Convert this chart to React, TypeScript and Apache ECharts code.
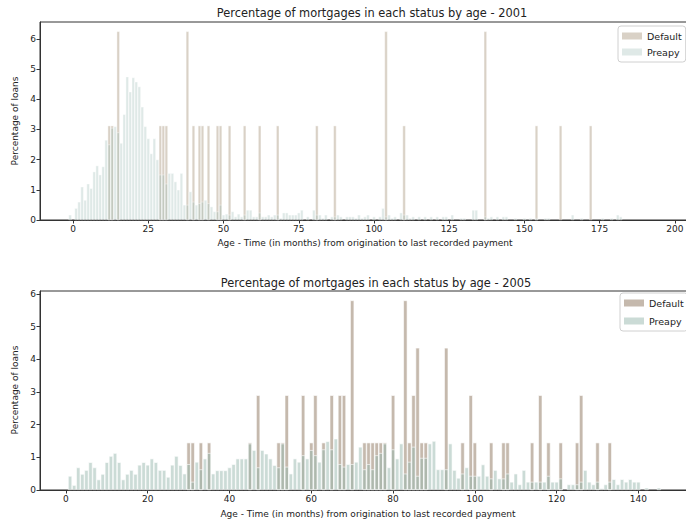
import React, { useEffect, useRef } from "react";
import * as echarts from "echarts";

// ---------- 2001 ----------
const prepay2001Start = -1;
const prepay2001 = [
  0.17, 0, 0.39, 0.6, 1.1, 0.66, 1.2, 1.05, 1.6, 1.8, 1.5, 1.77, 2.65, 2.5, 3.05, 3.1, 2.9, 2.55, 3.5, 4.75,
  4.25, 4.72, 4.58, 4.42, 3.75, 3.1, 2.7, 2.2, 2.7, 2.0, 1.5, 1.5, 1.2, 1.55, 1.55, 1.27, 1.0, 1.55, 0.5, 0.5,
  0.94, 0.6, 0.5, 0.55, 0.6, 0.66, 0.55, 0.44, 0.28, 0.28, 0.5, 0.17, 0.2, 0.17, 0.28, 0.11, 0.2, 0.11, 0.17, 0.33,
  0.33, 0.11, 0.11, 0.24, 0.11, 0.11, 0.17, 0.11, 0.17, 0.17, 0.06, 0.24, 0.24, 0.17, 0.17, 0.17, 0.24, 0.33, 0, 0.11,
  0, 0.33, 0.17, 0.17, 0.06, 0.17, 0, 0.11, 0.11, 0.17, 0.11, 0, 0.11, 0.11, 0.11, 0.06, 0.17, 0.06, 0.11, 0.17,
  0, 0.11, 0, 0.11, 0.39, 0.11, 0.17, 0.06, 0.11, 0, 0.24, 0.17, 0.17, 0.06, 0.11, 0, 0.11, 0, 0.11, 0,
  0.11, 0, 0.11, 0, 0.11, 0.11, 0, 0.17, 0, 0, 0.06, 0.06, 0, 0, 0.33, 0.33, 0, 0, 0.11, 0.06,
  0.11, 0, 0.11, 0, 0.11, 0.11, 0, 0, 0.06, 0, 0, 0.06, 0, 0.06, 0, 0.06, 0, 0, 0.06, 0.06,
  0, 0, 0, 0, 0, 0, 0, 0.17, 0, 0, 0.06, 0, 0, 0, 0, 0, 0, 0.06, 0, 0,
  0.06, 0, 0.17, 0.11, 0,
];
const default2001Ages = [12, 13, 15, 29, 30, 31, 38, 40, 42, 43, 45, 48, 49, 52, 57, 62, 68, 81, 87, 104, 110, 137, 154, 162, 172];
const default2001Values = [3.125, 3.125, 6.25, 3.125, 3.125, 3.125, 6.25, 3.125, 3.125, 3.125, 3.125, 3.125, 3.125, 3.125, 3.125, 3.125, 3.125, 3.125, 3.125, 6.25, 3.125, 6.25, 3.125, 3.125, 3.125];

// ---------- 2005 ----------
const prepay2005Start = 1;
const prepay2005 = [
  0.43, 0.15, 0.69, 0.49, 0.61, 0.85, 0.69, 0.32, 0.49, 0.85, 1.04, 1.13, 0.85, 0.32, 0.49, 0.61, 0.49, 0.77, 0.85, 0.77,
  0.96, 0.85, 0.61, 0.61, 0.4, 0.77, 1.04, 0.76, 0.5, 0.79, 0.25, 0.86, 0.63, 0.96, 1.13, 0.5, 0.6, 0.6, 0.6, 0.69,
  0.79, 0.96, 0.96, 0.96, 1.42, 1.22, 0.69, 1.22, 1.11, 0.96, 0.76, 0.69, 1.42, 0.71, 0.5, 0.96, 0.86, 1.06, 0.96, 1.22,
  1.06, 0.86, 1.24, 1.49, 1.24, 1.57, 0.79, 0.71, 0.79, 0.79, 0.86, 1.32, 0.63, 0.79, 0.63, 1.06, 1.13, 1.42, 0.69, 1.24,
  0.96, 1.42, 0.5, 0.86, 1.32, 0.43, 0.98, 0.98, 1.42, 1.5, 0.63, 0.63, 0.63, 1.42, 0.61, 0.37, 0.5, 0.69, 0.43, 0.43,
  0.43, 0.78, 0.43, 0.35, 0.61, 0.35, 0.35, 0.5, 0.25, 0.5, 0.17, 0.61, 0.25, 0.25, 0.25, 0.25, 0.25, 0.43, 0.25, 0.25,
  0.35, 0, 0.17, 0.17, 0.17, 0.25, 0.61, 0.25, 0.17, 0.25, 0.05, 0.17, 0.25, 0.33, 0.17, 0.33, 0.25, 0.33, 0.25, 0.25,
  0, 0.07, 0, 0, 0.07,
];
const default2005Ages = [30, 31, 33, 35, 45, 47, 52, 53, 54, 58, 60, 61, 63, 65, 67, 68, 70, 73, 74, 75, 76, 77, 78, 80, 83, 84, 85, 86, 87, 88, 93, 97, 99, 100, 104, 107, 108, 114, 116, 118, 121, 125, 126, 130, 133];
const default2005Values = [1.45, 1.45, 1.45, 1.45, 1.45, 2.9, 1.45, 1.45, 2.9, 2.9, 1.45, 2.9, 1.45, 2.9, 2.9, 2.9, 5.8, 1.45, 1.45, 1.45, 1.45, 1.45, 1.45, 2.9, 5.8, 1.45, 2.9, 4.35, 1.45, 1.45, 4.35, 1.45, 2.9, 1.45, 1.45, 1.45, 1.45, 1.45, 2.9, 1.45, 1.45, 1.45, 2.9, 1.45, 1.45];

const xTicks2001 = [0, 25, 50, 75, 100, 125, 150, 175, 200];
const xTicks2005 = [0, 20, 40, 60, 80, 100, 120, 140];
const yTicks = [0, 1, 2, 3, 4, 5, 6];

const titles = ["Percentage of mortgages in each status by age - 2001", "Percentage of mortgages in each status by age - 2005"];
const xLabel = "Age - Time (in months) from origination to last recorded payment";
const yLabel = "Percentage of loans";
const seriesNames = ["Default", "Preapy"];

const FONT = "DejaVu Sans";
const C01_DEF = "rgba(160,140,112,0.4)";
const C01_PRE = "rgba(150,182,176,0.3)";
const C05_DEF = "rgba(140,116,92,0.5)";
const C05_PRE = "rgba(152,184,174,0.5)";

function toPairs(start: number, vals: number[]) {
  const out: number[][] = [];
  vals.forEach((v, i) => {
    if (v > 0) out.push([start + i, v]);
  });
  return out;
}
function zipPairs(ages: number[], vals: number[]) {
  return ages.map((a, i) => [a, vals[i]]);
}

function xAxisCfg(grid: number, min: number, max: number, ticks: number[]) {
  return {
    type: "value",
    gridIndex: grid,
    min,
    max,
    splitLine: { show: false },
    axisLine: { show: true, onZero: false, lineStyle: { color: "#333", width: 1 } },
    axisTick: { show: true, length: 3.5, customValues: ticks, lineStyle: { color: "#333" } },
    axisLabel: { customValues: ticks, fontSize: 9, color: "#222", fontFamily: FONT, margin: 4 },
  };
}
function yAxisCfg(grid: number, max: number) {
  return {
    type: "value",
    gridIndex: grid,
    min: 0,
    max,
    splitLine: { show: false },
    axisLine: { show: true, onZero: false, lineStyle: { color: "#333", width: 1 } },
    axisTick: { show: true, length: 3.5, customValues: yTicks, lineStyle: { color: "#333" } },
    axisLabel: { customValues: yTicks, fontSize: 9, color: "#222", fontFamily: FONT, margin: 4 },
  };
}

function barSeries(name: string, grid: number, data: number[][], color: string, width: number, border: number) {
  return {
    type: "bar",
    name,
    xAxisIndex: grid,
    yAxisIndex: grid,
    data,
    barWidth: width,
    barGap: "-100%",
    itemStyle: { color, borderColor: "#fff", borderWidth: border },
    emphasis: { disabled: true },
  };
}

function legendCfg(left: number, top: number, cDef: string, cPre: string, gap: number) {
  return {
    orient: "vertical",
    left,
    top,
    selectedMode: false,
    icon: "rect",
    itemWidth: 20,
    itemHeight: 7,
    itemGap: gap,
    padding: [5, 4, 5, 4],
    borderColor: "#d0d0d0",
    borderWidth: 1,
    borderRadius: 3,
    backgroundColor: "rgba(255,255,255,0.85)",
    textStyle: { fontSize: 9.5, fontFamily: FONT, color: "#222" },
    data: [
      { name: seriesNames[0], itemStyle: { color: cDef, borderWidth: 0 } },
      { name: seriesNames[1], itemStyle: { color: cPre, borderWidth: 0 } },
    ],
  };
}

function txt(x: number, y: number, text: string, size: number, rotation = 0) {
  return {
    type: "text",
    x,
    y,
    rotation,
    style: { text, fontSize: size, fontFamily: FONT, fill: "#222", textAlign: "center", textVerticalAlign: "middle" },
  };
}

export default function App() {
  const ref = useRef<HTMLDivElement>(null);
  useEffect(() => {
    if (!ref.current) return;
    const chart = echarts.init(ref.current, undefined, { renderer: "svg" });
    chart.setOption({
      animation: false,
      backgroundColor: "#fff",
      grid: [
        { left: 40, top: 22, width: 665, height: 198, show: true, borderColor: "#333", borderWidth: 1, backgroundColor: "transparent", outerBoundsMode: "none", containLabel: false },
        { left: 40, top: 291, width: 672, height: 199, show: true, borderColor: "#333", borderWidth: 1, backgroundColor: "transparent", outerBoundsMode: "none", containLabel: false },
      ],
      xAxis: [xAxisCfg(0, -11, 210, xTicks2001), xAxisCfg(1, -6.35, 158, xTicks2005)],
      yAxis: [yAxisCfg(0, 6.5625), yAxisCfg(1, 6.087)],
      legend: [legendCfg(618, 26, C01_DEF, C01_PRE, 6), legendCfg(620, 293, C05_DEF, C05_PRE, 8)],
      series: [
        barSeries(seriesNames[0], 0, zipPairs(default2001Ages, default2001Values), C01_DEF, 3, 0.4),
        barSeries(seriesNames[1], 0, toPairs(prepay2001Start, prepay2001), C01_PRE, 3, 0.4),
        barSeries(seriesNames[0], 1, zipPairs(default2005Ages, default2005Values), C05_DEF, 4.1, 0.6),
        barSeries(seriesNames[1], 1, toPairs(prepay2005Start, prepay2005), C05_PRE, 4.1, 0.6),
      ],
      graphic: [
        txt(372, 13, titles[0], 11.4),
        txt(365, 243, xLabel, 9),
        txt(15, 121, yLabel, 9, Math.PI / 2),
        txt(376, 283, titles[1], 11.4),
        txt(368, 514, xLabel, 9),
        txt(15, 390, yLabel, 9, Math.PI / 2),
      ],
    });
    return () => chart.dispose();
  }, []);
  return <div ref={ref} style={{ position: "fixed", left: 0, top: 0, width: 686, height: 521 }} />;
}
